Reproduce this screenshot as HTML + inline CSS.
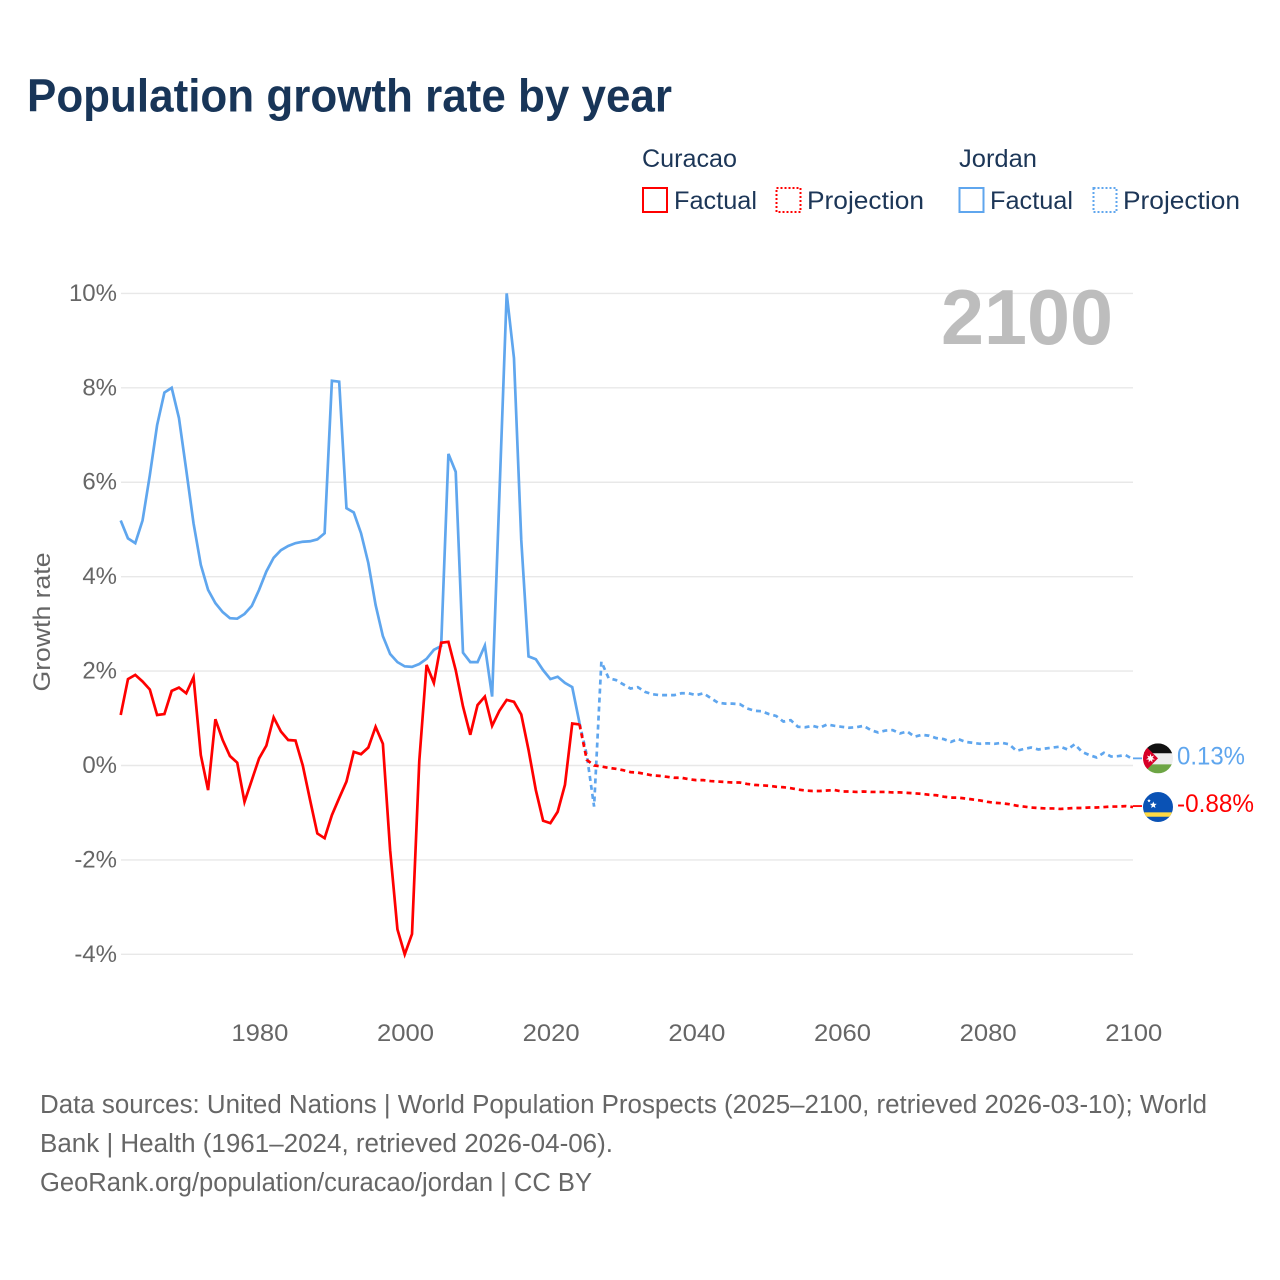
<!DOCTYPE html>
<html lang="en">
<head>
<meta charset="utf-8">
<title>Population growth rate by year</title>
<style>
html,body{margin:0;padding:0;background:#fff;}
svg{display:block;font-family:"Liberation Sans",sans-serif;}
</style>
</head>
<body>
<svg id="chart" xmlns="http://www.w3.org/2000/svg" width="1280" height="1280" viewBox="0 0 1280 1280">
  <defs>
    <clipPath id="flag-clip"><circle cx="0" cy="0" r="15"/></clipPath>
  </defs>
  <rect x="0" y="0" width="1280" height="1280" fill="#fff"/>
  <text x="27" y="111.5" font-size="46" font-weight="700" fill="#183558" textLength="645" lengthAdjust="spacingAndGlyphs">Population growth rate by year</text>

  <g font-size="25" fill="#1c3657">
    <text x="642" y="167" textLength="95" lengthAdjust="spacingAndGlyphs">Curacao</text>
    <text x="959" y="167" textLength="78" lengthAdjust="spacingAndGlyphs">Jordan</text>
    <rect x="643" y="188" width="24" height="24" fill="none" stroke="#ff0000" stroke-width="2"/>
    <text x="674" y="209" textLength="83" lengthAdjust="spacingAndGlyphs">Factual</text>
    <rect x="776.5" y="188" width="24" height="24" fill="none" stroke="#ff0000" stroke-width="2" stroke-dasharray="2 2"/>
    <text x="807" y="209" textLength="117" lengthAdjust="spacingAndGlyphs">Projection</text>
    <rect x="959.5" y="188" width="24" height="24" fill="none" stroke="#5fa6ee" stroke-width="2"/>
    <text x="990" y="209" textLength="83" lengthAdjust="spacingAndGlyphs">Factual</text>
    <rect x="1093.5" y="188" width="23" height="24" fill="none" stroke="#5fa6ee" stroke-width="2" stroke-dasharray="2 2"/>
    <text x="1123" y="209" textLength="117" lengthAdjust="spacingAndGlyphs">Projection</text>
  </g>

  <g id="grid"></g>
  <g id="y-ticks"></g>
  <g id="x-ticks"></g>
  <text transform="translate(50,622) rotate(-90)" text-anchor="middle" font-size="24.5" fill="#666" textLength="139" lengthAdjust="spacingAndGlyphs">Growth rate</text>
  <text x="941" y="344" font-size="78" font-weight="700" fill="#bdbdbd" textLength="172" lengthAdjust="spacingAndGlyphs">2100</text>

  <g id="series"></g>
  <g id="ends"></g>

  <g font-size="25.5" fill="#666">
    <text x="40" y="1113" textLength="1167" lengthAdjust="spacingAndGlyphs">Data sources: United Nations | World Population Prospects (2025–2100, retrieved 2026-03-10); World</text>
    <text x="40" y="1152" textLength="573" lengthAdjust="spacingAndGlyphs">Bank | Health (1961–2024, retrieved 2026-04-06).</text>
    <text x="40" y="1191" textLength="552" lengthAdjust="spacingAndGlyphs">GeoRank.org/population/curacao/jordan | CC BY</text>
  </g>
</svg>
<script>
const factualStartYear = 1961;
const projectionStartYear = 2024;
const yTickValues = [10, 8, 6, 4, 2, 0, -2, -4];
const xTickYears = [1980, 2000, 2020, 2040, 2060, 2080, 2100];

const jordanFactual = [
  5.19,4.81,4.71,5.19,6.15,7.21,7.90,8.00,7.36,
  6.26,5.13,4.25,3.72,3.44,3.25,3.12,3.11,3.21,3.38,
  3.72,4.11,4.40,4.56,4.65,4.71,4.74,4.75,4.79,4.92,
  8.15,8.13,5.45,5.36,4.92,4.29,3.40,2.74,2.36,2.19,
  2.10,2.09,2.15,2.26,2.45,2.53,6.60,6.22,2.39,2.19,
  2.19,2.54,1.46,5.73,10.00,8.63,4.78,2.31,2.25,2.02,
  1.83,1.88,1.75,1.66,0.90
];
const curacaoFactual = [
  1.07,1.83,1.92,1.78,1.61,1.07,1.09,1.58,1.65,
  1.53,1.87,0.22,-0.52,0.98,0.54,0.20,0.06,-0.77,-0.31,
  0.15,0.42,1.02,0.72,0.54,0.53,0.00,-0.73,-1.44,-1.54,
  -1.05,-0.69,-0.34,0.29,0.24,0.38,0.82,0.46,-1.80,-3.47,
  -4.00,-3.57,0.10,2.13,1.75,2.60,2.62,2.02,1.25,0.65,
  1.28,1.46,0.84,1.16,1.39,1.35,1.08,0.33,-0.52,-1.17,
  -1.22,-0.98,-0.41,0.89,0.87
];
const jordanProjection = [
  0.90,0.22,-0.87,2.20,1.85,1.81,
  1.72,1.63,1.66,1.56,1.51,1.49,1.49,1.49,1.53,1.53,
  1.49,1.53,1.43,1.33,1.31,1.31,1.30,1.21,1.16,1.15,
  1.09,1.05,0.93,0.96,0.82,0.81,0.84,0.80,0.87,0.84,
  0.82,0.80,0.81,0.84,0.75,0.70,0.74,0.75,0.68,0.72,
  0.61,0.65,0.63,0.58,0.56,0.50,0.56,0.50,0.48,0.46,
  0.47,0.46,0.48,0.45,0.31,0.35,0.38,0.34,0.36,0.38,
  0.40,0.34,0.45,0.29,0.22,0.17,0.27,0.19,0.20,0.22,
  0.13
];
const curacaoProjection = [
  0.87,0.12,0.00,-0.02,-0.05,-0.07,
  -0.10,-0.14,-0.15,-0.18,-0.21,-0.22,-0.24,-0.26,-0.26,-0.29,
  -0.31,-0.31,-0.33,-0.34,-0.35,-0.36,-0.36,-0.39,-0.41,-0.42,
  -0.43,-0.45,-0.46,-0.48,-0.51,-0.53,-0.54,-0.54,-0.53,-0.52,
  -0.55,-0.55,-0.56,-0.55,-0.56,-0.56,-0.56,-0.57,-0.57,-0.58,
  -0.59,-0.60,-0.62,-0.63,-0.66,-0.68,-0.68,-0.70,-0.72,-0.74,
  -0.77,-0.79,-0.80,-0.82,-0.85,-0.87,-0.89,-0.90,-0.91,-0.91,
  -0.92,-0.91,-0.90,-0.90,-0.89,-0.89,-0.88,-0.87,-0.87,-0.86,
  -0.88
];

const SVGNS = 'http://www.w3.org/2000/svg';
const BLUE = '#5fa6ee';
const RED = '#ff0000';

function xScale(year) { return 120.7 + (year - 1961) * (1012.3 / 139); }
function yScale(value) { return 765.5 - value * 47.21; }

function make(tag, attrs, parent) {
  const el = document.createElementNS(SVGNS, tag);
  for (const k in attrs) el.setAttribute(k, attrs[k]);
  parent.appendChild(el);
  return el;
}

const gridGroup = document.getElementById('grid');
const yTickGroup = document.getElementById('y-ticks');
const xTickGroup = document.getElementById('x-ticks');
const seriesGroup = document.getElementById('series');
const endsGroup = document.getElementById('ends');

yTickValues.forEach(function (v) {
  const line = make('line', {x1: 121, x2: 1133, y1: yScale(v), y2: yScale(v), stroke: '#e8e8e8', 'stroke-width': 1.4}, gridGroup);
  
  
  const label = make('text', {x: 117, y: yScale(v) + 7.5, 'text-anchor': 'end', 'font-size': 24, fill: '#666'}, yTickGroup);
  
  
  label.textContent = v + '%';
});

xTickYears.forEach(function (yr) {
  const label = make('text', {x: xScale(yr) + 0.8, y: 1041, 'text-anchor': 'middle', 'font-size': 24.5, fill: '#666', textLength: 57, lengthAdjust: 'spacingAndGlyphs'}, xTickGroup);
  
  
  label.textContent = yr;
});

function drawLine(values, startYear, color, dashed) {
  const pts = values.map(function (v, i) {
    return xScale(startYear + i).toFixed(2) + ',' + yScale(v).toFixed(2);
  }).join(' ');
  const attrs = {points: pts, fill: 'none', stroke: color, 'stroke-width': 2.7, 'stroke-linejoin': 'miter'};
  if (dashed) attrs['stroke-dasharray'] = '5 4';
  return make('polyline', attrs, seriesGroup);
}

const jordanFactualLine = drawLine(jordanFactual, factualStartYear, BLUE, false);


const jordanProjectionLine = drawLine(jordanProjection, projectionStartYear, BLUE, true);


const curacaoFactualLine = drawLine(curacaoFactual, factualStartYear, RED, false);


const curacaoProjectionLine = drawLine(curacaoProjection, projectionStartYear, RED, true);



function star(cx, cy, r, n, parent, color) {
  const pts = [];
  for (let i = 0; i < n * 2; i++) {
    const rad = i % 2 ? r * 0.45 : r;
    const a = -Math.PI / 2 + i * Math.PI / n;
    pts.push((cx + rad * Math.cos(a)).toFixed(2) + ',' + (cy + rad * Math.sin(a)).toFixed(2));
  }
  return make('polygon', {points: pts.join(' '), fill: color}, parent);
}

const jordanEnd = jordanProjection[jordanProjection.length - 1];
const curacaoEnd = curacaoProjection[curacaoProjection.length - 1];

const jordanConnector = make('line', {x1: 1133, x2: 1142, y1: yScale(jordanEnd) - 1, y2: yScale(jordanEnd) - 1, stroke: BLUE, 'stroke-width': 1.8}, endsGroup);


const curacaoConnector = make('line', {x1: 1133, x2: 1142, y1: yScale(curacaoEnd) - 1, y2: yScale(curacaoEnd) - 1, stroke: RED, 'stroke-width': 1.8}, endsGroup);



const jordanFlag = make('g', {transform: 'translate(1158,' + (yScale(jordanEnd) - 1) + ')', 'clip-path': 'url(#flag-clip)'}, endsGroup);


make('rect', {x: -15, y: -15, width: 30, height: 10, fill: '#111'}, jordanFlag);
make('rect', {x: -15, y: -5, width: 30, height: 11, fill: '#eeeeee'}, jordanFlag);
make('rect', {x: -15, y: 6, width: 30, height: 9, fill: '#6da544'}, jordanFlag);
make('polygon', {points: '-15,-15 -15,15 0,0', fill: '#d80027'}, jordanFlag);
star(-7.5, 0, 4.6, 7, jordanFlag, '#fff');

const curacaoFlag = make('g', {transform: 'translate(1158,' + yScale(curacaoEnd) + ')', 'clip-path': 'url(#flag-clip)'}, endsGroup);


make('rect', {x: -15, y: -15, width: 30, height: 30, fill: '#0a52b5'}, curacaoFlag);
make('rect', {x: -15, y: 5.3, width: 30, height: 4.4, fill: '#ffda44'}, curacaoFlag);
star(-4.7, -2, 3.6, 5, curacaoFlag, '#fff');
star(-9, -6.3, 1.9, 5, curacaoFlag, '#fff');

const jordanLabel = make('text', {x: 1177, y: yScale(jordanEnd) + 5, 'font-size': 25, fill: BLUE, textLength: 68, lengthAdjust: 'spacingAndGlyphs'}, endsGroup);


jordanLabel.textContent = jordanEnd.toFixed(2) + '%';

const curacaoLabel = make('text', {x: 1177, y: yScale(curacaoEnd) + 5, 'font-size': 25, fill: RED, textLength: 77, lengthAdjust: 'spacingAndGlyphs'}, endsGroup);


curacaoLabel.textContent = curacaoEnd.toFixed(2) + '%';
</script>
</body>
</html>
